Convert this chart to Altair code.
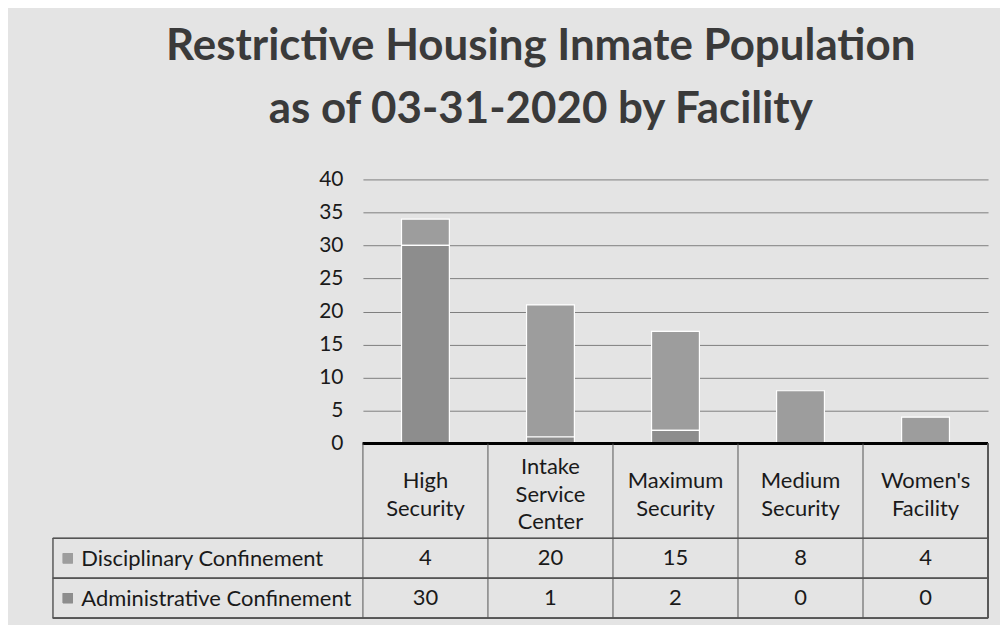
import altair as alt
import pandas as pd

# ---- data ----
facilities = ["High Security", "Intake Service Center", "Maximum Security",
              "Medium Security", "Women's Facility"]
facility_labels = ["High\nSecurity", "Intake\nService\nCenter", "Maximum\nSecurity",
                   "Medium\nSecurity", "Women's\nFacility"]
series = ["Disciplinary Confinement", "Administrative Confinement"]
disciplinary = [4, 20, 15, 8, 4]
administrative = [30, 1, 2, 0, 0]
y_ticks = [0, 5, 10, 15, 20, 25, 30, 35, 40]
title_lines = ["Restrictive Housing Inmate Population", "as of 03-31-2020 by Facility"]

rows = []
for i, f in enumerate(facilities):
    rows.append(dict(facility=f, series=series[0], value=disciplinary[i], order=1))
    rows.append(dict(facility=f, series=series[1], value=administrative[i], order=0))
df = pd.DataFrame(rows)
fac_df = pd.DataFrame({"facility": facilities})

# one record per line of each header label, centred around 0
line_rows = []
for f, lab in zip(facilities, facility_labels):
    parts = lab.split("\n")
    for k, p in enumerate(parts):
        line_rows.append(dict(facility=f, line=p, slot=k - (len(parts) - 1) / 2))
lines_df = pd.DataFrame(line_rows)

# ---- style ----
FONT = "Lato"
TXT = "#1a1a1a"
LINE = "#555555"
W = 627
H_PLOT = 265
H_HEAD = 95
H_ROWS = 80
LEG = 311
TFS = 22

color_scale = alt.Scale(domain=series, range=["#9d9d9d", "#8d8d8d"])
xscale = alt.Scale(domain=facilities, paddingInner=0, paddingOuter=0)
x_fac = alt.X("facility:N", scale=xscale, axis=None, sort=facilities)
x_fac_edge = alt.X("facility:N", scale=xscale, axis=None, sort=facilities, bandPosition=0)

# ---- bar chart ----
y_axis = alt.Axis(values=y_ticks, title=None, labelFontSize=21, labelFont=FONT,
                  labelColor=TXT, labelPadding=20, domain=False, ticks=False,
                  grid=True, gridColor="#7e7e7e", gridWidth=1, labelOverlap=False)
y_scale = alt.Scale(domain=[0, 40], nice=False)
bars = alt.Chart(df).mark_bar(size=48, stroke="white", strokeWidth=1.2).encode(
    x=x_fac,
    y=alt.Y("value:Q", stack="zero", scale=y_scale, axis=y_axis),
    color=alt.Color("series:N", scale=color_scale, legend=None),
    order=alt.Order("order:Q"),
)
zero = alt.Chart(df).mark_rule(color="black", strokeWidth=2.5).encode(
    y=alt.YDatum(0, scale=y_scale, axis=y_axis))
top = alt.layer(bars, zero).properties(width=W, height=H_PLOT)

# ---- header row of the table ----
head_text = alt.Chart(lines_df).mark_text(
    fontSize=TFS, font=FONT, color=TXT, baseline="middle"
).encode(
    x=x_fac,
    y=alt.Y("slot:Q", scale=alt.Scale(domain=[-1.87, 1.58], reverse=True, nice=False, zero=False),
            axis=None),
    text="line:N")
head_vlines = alt.Chart(fac_df).mark_rule(color=LINE, strokeWidth=1).encode(
    x=x_fac_edge, y=alt.value(0), y2=alt.value(H_HEAD))
head_right = alt.Chart(fac_df).mark_rule(color=LINE, strokeWidth=1).encode(
    x=alt.value(W), y=alt.value(0), y2=alt.value(H_HEAD))
header = alt.layer(head_vlines, head_right, head_text).properties(width=W, height=H_HEAD)

# ---- data rows of the table ----
y_rows = alt.Y("series:N", sort=series,
               scale=alt.Scale(domain=series, paddingInner=0, paddingOuter=0),
               axis=alt.Axis(title=None, labelAlign="left", labelPadding=LEG - 28,
                             labelFontSize=TFS, labelFont=FONT, labelLimit=400,
                             labelColor=TXT, ticks=False, domain=False))
vals = alt.Chart(df).mark_text(fontSize=TFS, font=FONT, color=TXT, baseline="middle").encode(
    x=x_fac, y=y_rows, text="value:Q")
swatch = alt.Chart(df).mark_square(size=100, opacity=1).encode(
    x=alt.value(-LEG + 15), y=y_rows,
    color=alt.Color("series:N", scale=color_scale, legend=None))
row_vlines = alt.Chart(fac_df).mark_rule(color=LINE, strokeWidth=1).encode(
    x=x_fac_edge, y=alt.value(0), y2=alt.value(H_ROWS))
row_edges = alt.layer(
    alt.Chart(fac_df).mark_rule(color=LINE, strokeWidth=1).encode(
        x=alt.value(W), y=alt.value(0), y2=alt.value(H_ROWS)),
    alt.Chart(fac_df).mark_rule(color="#777777", strokeWidth=1).encode(
        x=alt.value(-LEG), y=alt.value(0), y2=alt.value(H_ROWS)),
    alt.Chart(fac_df).mark_rule(color=LINE, strokeWidth=1).encode(
        x=alt.value(-LEG), x2=alt.value(W), y=alt.value(0)),
    alt.Chart(fac_df).mark_rule(color=LINE, strokeWidth=1).encode(
        x=alt.value(-LEG), x2=alt.value(W), y=alt.value(H_ROWS / 2)),
    alt.Chart(fac_df).mark_rule(color=LINE, strokeWidth=1).encode(
        x=alt.value(-LEG), x2=alt.value(W), y=alt.value(H_ROWS)),
)
table_rows = alt.layer(row_vlines, row_edges, swatch, vals).properties(width=W, height=H_ROWS)

chart = alt.vconcat(top, header, table_rows, spacing=0, bounds="flush").properties(
    title=alt.Title(title_lines, fontSize=44, font=FONT, fontWeight="bold", lineHeight=63,
                    color="#3a3a3a", anchor="middle", dx=20, offset=37),
    background="#e4e4e4",
    padding={"left": 44, "top": 16, "right": 10, "bottom": 5},
).configure_view(stroke=None)

chart.save("out.html", embed_options={"renderer": "svg", "actions": False})
